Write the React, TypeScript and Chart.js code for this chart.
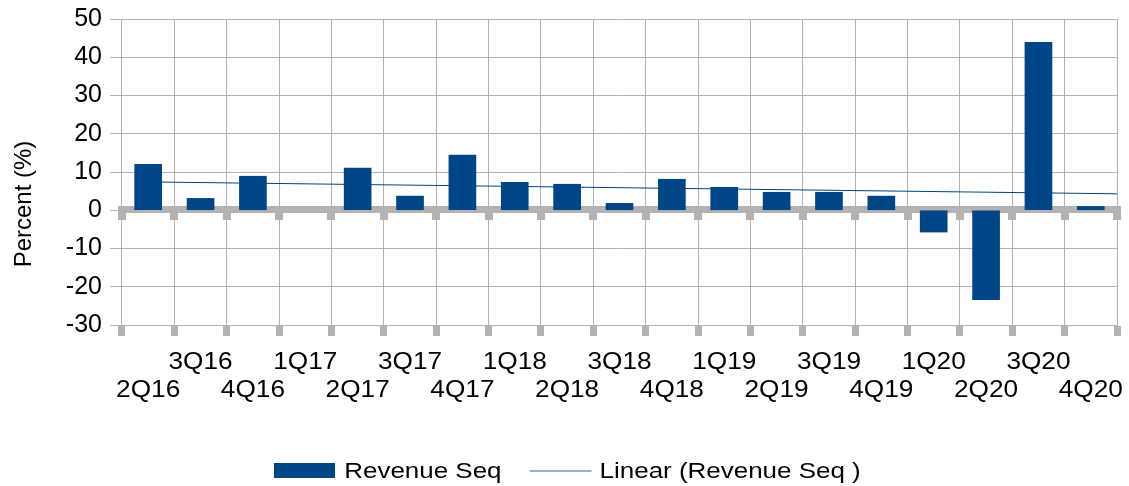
import React, { useEffect, useRef } from 'react';
import { Chart, registerables } from 'chart.js';

Chart.register(...registerables);

const categories = [
  '2Q16', '3Q16', '4Q16', '1Q17', '2Q17', '3Q17', '4Q17', '1Q18', '2Q18', '3Q18',
  '4Q18', '1Q19', '2Q19', '3Q19', '4Q19', '1Q20', '2Q20', '3Q20', '4Q20',
];
const revenueSeq = [
  12.0, 3.1, 8.9, 0, 11.0, 3.7, 14.4, 7.3, 6.8, 1.8,
  8.1, 6.0, 4.7, 4.7, 3.7, -5.7, -23.4, 43.9, 1.0,
];
const yMin = -30;
const yMax = 50;
const yStep = 10;
const seriesLabel = 'Revenue Seq';
const trendLabel = 'Linear (Revenue Seq )';
const yTitle = 'Percent (%)';

const FONT = '"Liberation Sans", Arial, sans-serif';
const BAR_COLOR = '#004586';
const GRID = '#b3b3b3';

function linearFit(ys: number[]) {
  const n = ys.length;
  let sx = 0, sy = 0, sxx = 0, sxy = 0;
  ys.forEach((y, i) => { sx += i; sy += y; sxx += i * i; sxy += i * y; });
  const b = (n * sxy - sx * sy) / (n * sxx - sx * sx);
  const a = (sy - b * sx) / n;
  return (i: number) => a + b * i;
}

const zeroBand = {
  id: 'zeroBand',
  beforeDatasetsDraw(chart: any) {
    const { ctx, scales } = chart;
    const x = scales.x, y = scales.y;
    const y0 = Math.round(y.getPixelForValue(0));
    ctx.save();
    ctx.fillStyle = GRID;
    ctx.fillRect(x.left - 4, y0 - 4, x.right - x.left + 8, 7);
    for (let i = 0; i <= categories.length; i++) {
      const px = Math.round(x.getPixelForValue(i - 0.5));
      ctx.fillRect(px - 4, y0 + 3, 8, 7);
    }
    ctx.restore();
  },
};

const customText = {
  id: 'customText',
  afterDraw(chart: any) {
    const { ctx, scales } = chart;
    const x = scales.x;
    ctx.save();
    ctx.fillStyle = '#000';
    // x labels (staggered, horizontally stretched like the reference)
    ctx.font = `23px ${FONT}`;
    ctx.textAlign = 'center';
    ctx.textBaseline = 'alphabetic';
    categories.forEach((c, i) => {
      const px = x.getPixelForValue(i);
      const py = x.top + (i % 2 === 0 ? 72 : 44);
      ctx.save();
      ctx.translate(px, py);
      ctx.scale(1.14, 1);
      ctx.fillText(c, 0, 0);
      ctx.restore();
    });
    // y title
    ctx.save();
    ctx.font = `24px ${FONT}`;
    ctx.translate(31, 204);
    ctx.rotate(-Math.PI / 2);
    ctx.textAlign = 'center';
    ctx.fillText(yTitle, 0, 0);
    ctx.restore();
    // legend
    const s = 1.18;
    ctx.font = `22px ${FONT}`;
    ctx.textAlign = 'left';
    const w1 = ctx.measureText(seriesLabel).width * s;
    const w2 = ctx.measureText(trendLabel).width * s;
    const total = 61 + 9 + w1 + 28 + 62 + 8 + w2;
    let lx = chart.width / 2 + 3 - total / 2;
    const top = 463, base = 478, cy = 471;
    ctx.fillStyle = BAR_COLOR;
    ctx.fillRect(Math.round(lx), top, 61, 15);
    lx += 70;
    ctx.fillStyle = '#000';
    ctx.save(); ctx.translate(lx, base); ctx.scale(s, 1); ctx.fillText(seriesLabel, 0, 0); ctx.restore();
    lx += w1 + 28;
    ctx.strokeStyle = 'rgba(0,69,134,0.55)';
    ctx.lineWidth = 1.5;
    ctx.beginPath(); ctx.moveTo(lx, cy); ctx.lineTo(lx + 62, cy); ctx.stroke();
    lx += 70;
    ctx.save(); ctx.translate(lx, base); ctx.scale(s, 1); ctx.fillText(trendLabel, 0, 0); ctx.restore();
    ctx.restore();
  },
};

export default function App() {
  const ref = useRef<HTMLCanvasElement>(null);
  useEffect(() => {
    document.body.style.margin = '0';
    const n = categories.length;
    const fit = linearFit(revenueSeq);
    const trendData = [
      { x: 0.5, y: fit(0) },
      { x: n, y: fit(n - 0.5) },
    ];
    const chart = new Chart(ref.current as HTMLCanvasElement, {
      type: 'bar',
      data: {
        labels: categories,
        datasets: [
          {
            type: 'bar',
            label: seriesLabel,
            data: revenueSeq,
            backgroundColor: (c: any) => (c.raw === 0 ? 'rgba(0,0,0,0)' : BAR_COLOR),
            borderWidth: 0,
            grouped: false,
            barThickness: 27,
            maxBarThickness: 27,
            xAxisID: 'x',
            yAxisID: 'y',
          } as any,
          {
            type: 'line',
            label: trendLabel,
            data: trendData,
            borderColor: BAR_COLOR,
            borderWidth: 1,
            pointRadius: 0,
            fill: false,
            grouped: false,
            xAxisID: 'xt',
            yAxisID: 'y',
          } as any,
        ],
      },
      options: {
        animation: false,
        responsive: true,
        maintainAspectRatio: false,
        layout: { padding: { left: 0, right: 12, top: 19, bottom: 0 } },
        plugins: {
          legend: { display: false },
          tooltip: { enabled: false },
          title: { display: false },
        },
        scales: {
          x: {
            type: 'category',
            offset: true,
            grid: {
              color: GRID,
              lineWidth: 1,
              offset: true,
              drawTicks: true,
              tickLength: 11,
              tickWidth: 7,
              tickColor: GRID,
            },
            border: { color: GRID },
            ticks: { display: false },
            afterFit: (s: any) => { s.height = 161; s.paddingLeft = 0; s.paddingRight = 0; },
          },
          xt: {
            type: 'linear',
            axis: 'x',
            display: false,
            min: 0,
            max: n,
            offset: false,
          },
          y: {
            min: yMin,
            max: yMax,
            ticks: {
              stepSize: yStep,
              font: { size: 25, family: FONT },
              color: '#000',
              padding: 8,
            },
            grid: { color: GRID, tickLength: 12, tickColor: GRID },
            border: { display: false },
            afterFit: (s: any) => { s.width = 122; s.paddingTop = 0; s.paddingBottom = 0; },
          },
        } as any,
      },
      plugins: [zeroBand, customText],
    });
    return () => chart.destroy();
  }, []);
  return (
    <div style={{ position: 'relative', width: 1129, height: 486 }}>
      <canvas ref={ref} />
    </div>
  );
}
